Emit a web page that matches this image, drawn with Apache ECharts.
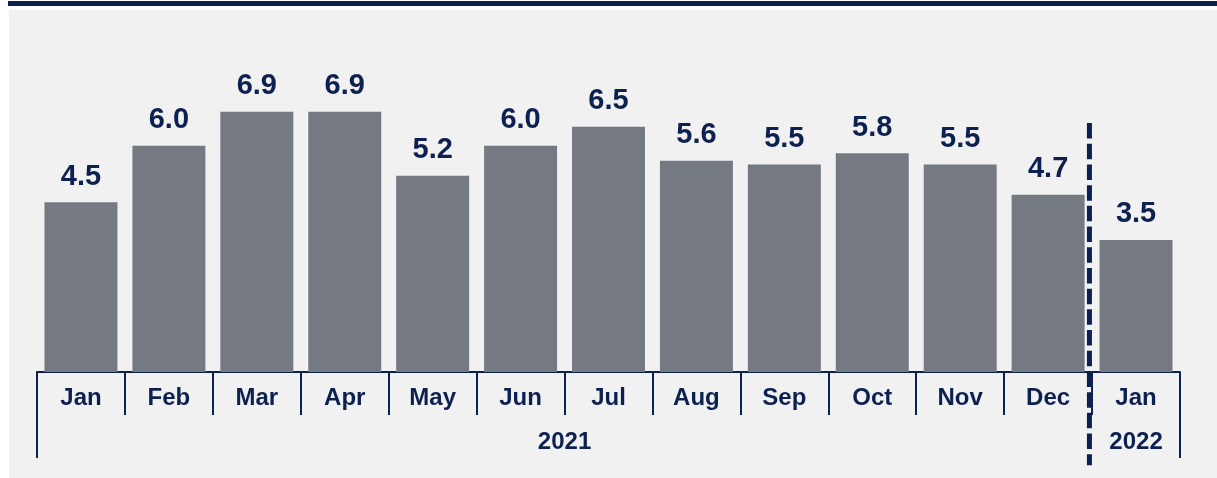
<!DOCTYPE html>
<html>
<head>
<meta charset="utf-8">
<script src="https://cdn.jsdelivr.net/npm/echarts@6/dist/echarts.min.js"></script>
<style>
  html, body { margin: 0; padding: 0; background: #ffffff; }
  #topbar { position: absolute; left: 8px; top: 1px; width: 1209px; height: 5px; background: #0d2150; }
  #main { position: absolute; left: 9px; top: 10px; width: 1208px; height: 468px; background: #f1f1f1; }
</style>
</head>
<body>
<div id="topbar"></div>
<div id="main"></div>
<script>
  var months = ['Jan', 'Feb', 'Mar', 'Apr', 'May', 'Jun', 'Jul', 'Aug', 'Sep', 'Oct', 'Nov', 'Dec', 'Jan'];
  var values = [4.5, 6.0, 6.9, 6.9, 5.2, 6.0, 6.5, 5.6, 5.5, 5.8, 5.5, 4.7, 3.5];
  // year labels sit at positions on a 0..13 scale (category boundaries)
  var yearPos = [6, 12.5];
  var yearLabels = ['2021', '2022'];
  var yearEdges = [0, 13];
  // dashed divider between Dec 2021 and Jan 2022
  var divider = [[11.97, 6.6], [11.97, -2.47]];

  var navy = '#0d2150';
  var font = "'Liberation Sans', Arial, sans-serif";

  var myChart = echarts.init(document.getElementById('main'));
  myChart.setOption({
    animation: false,
    grid: { left: 28, right: 37, top: 22.5, bottom: 106 },
    xAxis: [{
      type: 'category',
      data: months,
      axisLine: { lineStyle: { color: navy, width: 2 } },
      axisTick: { show: true, interval: 0, length: 43, lineStyle: { color: navy, width: 2 } },
      axisLabel: { interval: 0, margin: 14, color: navy, fontSize: 24, fontWeight: 'bold', fontFamily: font }
    }, {
      type: 'value',
      min: 0,
      max: 13,
      position: 'bottom',
      splitLine: { show: false },
      axisLine: { show: false },
      axisTick: { show: true, customValues: yearEdges, length: 86, lineStyle: { color: navy, width: 2 } },
      axisLabel: {
        customValues: yearPos,
        margin: 58,
        color: navy, fontSize: 24, fontWeight: 'bold', fontFamily: font,
        formatter: function (v) { return yearLabels[yearPos.indexOf(v)]; }
      }
    }],
    yAxis: { type: 'value', min: 0, max: 9, show: false, splitLine: { show: false } },
    series: [{
      type: 'bar',
      data: values,
      barWidth: '83%',
      itemStyle: { color: '#757982' },
      label: {
        show: true, position: 'top', distance: 11,
        color: navy, fontSize: 29, fontWeight: 'bold', fontFamily: font,
        formatter: function (p) { return p.value.toFixed(1); }
      }
    }, {
      type: 'line',
      xAxisIndex: 1,
      data: divider,
      clip: false,
      symbol: 'none',
      silent: true,
      lineStyle: { color: navy, width: 5, type: [15.5, 5.2] }
    }]
  });
</script>
</body>
</html>
